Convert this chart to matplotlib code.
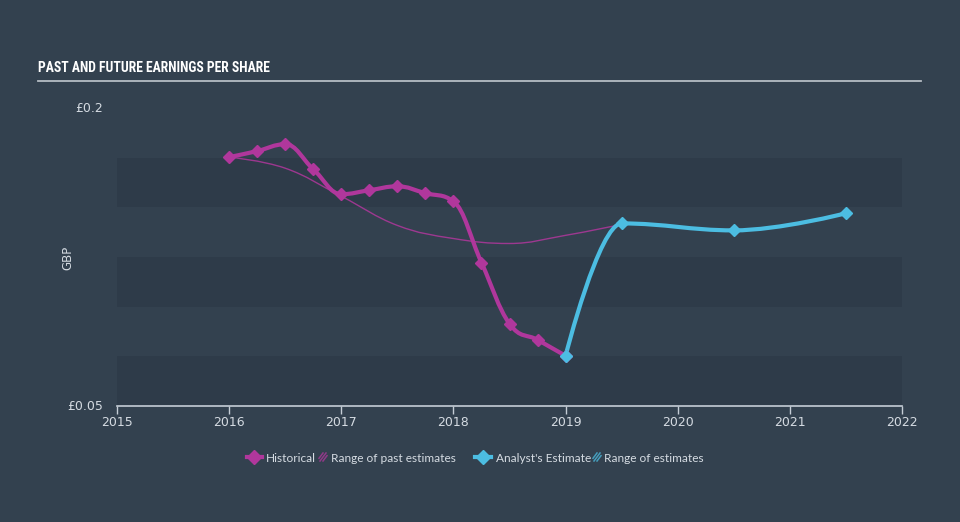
import numpy as np
import matplotlib
matplotlib.use("Agg")
import matplotlib.pyplot as plt
from matplotlib import font_manager
from matplotlib.path import Path
from matplotlib.patches import PathPatch
from matplotlib.lines import Line2D

# ---- data ----
hist_x = [2016.0, 2016.25, 2016.5, 2016.75, 2017.0, 2017.25, 2017.5, 2017.75,
          2018.0, 2018.25, 2018.5, 2018.75, 2019.0]
hist_y = [0.1753, 0.1783, 0.1818, 0.1692, 0.1566, 0.1586, 0.1606, 0.1571,
          0.1530, 0.1222, 0.0914, 0.0833, 0.0753]
est_x = [2019.0, 2019.5, 2020.5, 2021.5]
est_y = [0.0753, 0.1419, 0.1384, 0.1470]
past_est_x = [2016.0, 2016.5, 2017.0, 2017.5, 2018.0, 2018.5, 2019.0, 2019.5]
past_est_y = [0.1753, 0.1697, 0.1556, 0.1409, 0.1343, 0.1318, 0.1359, 0.1414]
year_ticks = [2015, 2016, 2017, 2018, 2019, 2020, 2021, 2022]
y_ticks = [0.05, 0.2]
y_tick_labels = ["£0.05", "£0.2"]
band_edges = [(0.15, 0.175), (0.10, 0.125), (0.05, 0.075)]
legend_labels = ["Historical", "Range of past estimates", "Analyst's Estimate", "Range of estimates"]
title_text = "PAST AND FUTURE EARNINGS PER SHARE"

BG = "#33414f"
BAND = "#2e3b49"
MAG = "#b0379c"
BLUE = "#4cbde2"
TXT = "#d5dbe2"


def spline_path(xs, ys, smoothing=1.5):
    """Highcharts-style spline: cubic Bezier segments, flattened at extremes."""
    xs = np.asarray(xs, float); ys = np.asarray(ys, float)
    n = len(xs)
    denom = smoothing + 1
    lc = [None] * n
    rc = [None] * n
    for i in range(n):
        if i == 0 or i == n - 1:
            lc[i] = (xs[i], ys[i]); rc[i] = (xs[i], ys[i])
            continue
        lx, ly = xs[i - 1], ys[i - 1]
        nx, ny = xs[i + 1], ys[i + 1]
        px, py = xs[i], ys[i]
        lcx = (smoothing * px + lx) / denom
        lcy = (smoothing * py + ly) / denom
        rcx = (smoothing * px + nx) / denom
        rcy = (smoothing * py + ny) / denom
        if rcx != lcx:
            corr = ((rcy - lcy) * (rcx - px)) / (rcx - lcx) + py - rcy
            lcy += corr; rcy += corr
        if lcy > max(ly, py):
            lcy = max(ly, py); rcy = 2 * py - lcy
        elif lcy < min(ly, py):
            lcy = min(ly, py); rcy = 2 * py - lcy
        if rcy > max(py, ny):
            rcy = max(py, ny); lcy = 2 * py - rcy
        elif rcy < min(py, ny):
            rcy = min(py, ny); lcy = 2 * py - rcy
        lc[i] = (lcx, lcy); rc[i] = (rcx, rcy)
    verts = [(xs[0], ys[0])]
    codes = [Path.MOVETO]
    for i in range(1, n):
        verts += [rc[i - 1], lc[i], (xs[i], ys[i])]
        codes += [Path.CURVE4] * 3
    return Path(verts, codes)


fig = plt.figure(figsize=(9.6, 5.22), dpi=100)
fig.patch.set_facecolor(BG)
ax = fig.add_axes([117 / 960, 116 / 522, 785 / 960, 298 / 522])
ax.set_facecolor(BG)
ax.set_xlim(2015, 2022)
ax.set_ylim(0.05, 0.2)

for lo, hi in band_edges:
    ax.axhspan(lo, hi, color=BAND, lw=0, zorder=0)

ax.add_patch(PathPatch(spline_path(past_est_x, past_est_y), fill=False,
                       edgecolor=MAG, lw=1.0, alpha=0.85, zorder=2))
ax.add_patch(PathPatch(spline_path(hist_x, hist_y), fill=False,
                       edgecolor=MAG, lw=3.0, zorder=3, capstyle="round"))
ax.add_patch(PathPatch(spline_path(est_x, est_y), fill=False,
                       edgecolor=BLUE, lw=3.0, zorder=4, capstyle="round"))
ax.plot(hist_x, hist_y, ls="none", marker="D", ms=6.5, color=MAG, zorder=5)
ax.plot(est_x, est_y, ls="none", marker="D", ms=6.5, color=BLUE, zorder=6)

for s in ["top", "right", "left"]:
    ax.spines[s].set_visible(False)
ax.spines["bottom"].set_color("#c5cdd6")
ax.spines["bottom"].set_linewidth(1.2)
ax.set_xticks(year_ticks)
ax.set_xticklabels([str(y) for y in year_ticks])
ax.tick_params(axis="x", colors="#c5cdd6", length=6, width=1, labelsize=9,
               labelcolor=TXT, pad=1)
ax.set_yticks(y_ticks)
ax.set_yticklabels(y_tick_labels)
ax.tick_params(axis="y", length=0, labelsize=9, labelcolor=TXT, pad=10)
for lbl in ax.get_yticklabels():
    lbl.set_verticalalignment("center")

fig.text(68 / 960, 1 - 258 / 522, "GBP", rotation=90, color=TXT, fontsize=8.5,
         ha="center", va="center")

# ---- title: prefer a condensed face if one is installed ----
installed = {f.name for f in font_manager.fontManager.ttflist}
title_family = None
for cand in ["Roboto Condensed", "Liberation Sans Narrow", "DejaVu Sans Condensed",
             "Open Sans Condensed", "Noto Sans Condensed", "Arial Narrow"]:
    if cand in installed:
        title_family = cand
        break
title_kw = dict(color="white", fontweight="bold", ha="left", va="center")
t = fig.text(38 / 960, 1 - 68 / 522, title_text,
             family=[title_family or "DejaVu Sans", "DejaVu Sans"],
             fontsize=12.5, **title_kw)
fig.canvas.draw()
w = t.get_window_extent().width
if w > 240:
    t.set_fontsize(12.5 * 232 / w)
fig.add_artist(Line2D([38 / 960, 921 / 960], [1 - 81 / 522, 1 - 81 / 522],
                      color="#b5bcc4", lw=1.3, transform=fig.transFigure))

# ---- legend (manual, in figure pixels) ----
W, H = 960, 522
ly = 1 - 457 / H


def px(x):
    return x / W


def line_handle(x0, x1, color):
    fig.add_artist(Line2D([px(x0), px(x1)], [ly, ly], color=color, lw=3,
                          transform=fig.transFigure))
    fig.add_artist(Line2D([px((x0 + x1) / 2)], [ly], marker="D", ms=7, color=color,
                          ls="none", transform=fig.transFigure))


def hatch_handle(x0, color):
    # three short diagonal strokes in an 8x8 px square
    for k in (-3, 0, 3):
        xa, ya = x0 + 1 + k, 457 + 4
        xb, yb = x0 + 7 + k, 457 - 4
        xa2, xb2 = max(xa, x0), min(xb, x0 + 8)
        ya2 = ya - (xa2 - xa) * (8 / 6)
        yb2 = yb + (xb - xb2) * (8 / 6)
        fig.add_artist(Line2D([px(xa2), px(xb2)], [1 - ya2 / H, 1 - yb2 / H],
                              color=color, lw=1.1, alpha=0.75,
                              transform=fig.transFigure))


LFS = 8.6
line_handle(247, 262, MAG)
fig.text(px(266), ly, legend_labels[0], color=TXT, fontsize=LFS, family="Lato",
         ha="left", va="center_baseline")
hatch_handle(319, MAG)
fig.text(px(331), ly, legend_labels[1], color=TXT, fontsize=LFS, family="Lato",
         ha="left", va="center_baseline")
line_handle(475, 491, BLUE)
fig.text(px(496), ly, legend_labels[2], color=TXT, fontsize=LFS, family="Lato",
         ha="left", va="center_baseline")
hatch_handle(593, BLUE)
fig.text(px(604), ly, legend_labels[3], color=TXT, fontsize=LFS, family="Lato",
         ha="left", va="center_baseline")

fig.savefig("out.png", dpi=100, facecolor=BG)
